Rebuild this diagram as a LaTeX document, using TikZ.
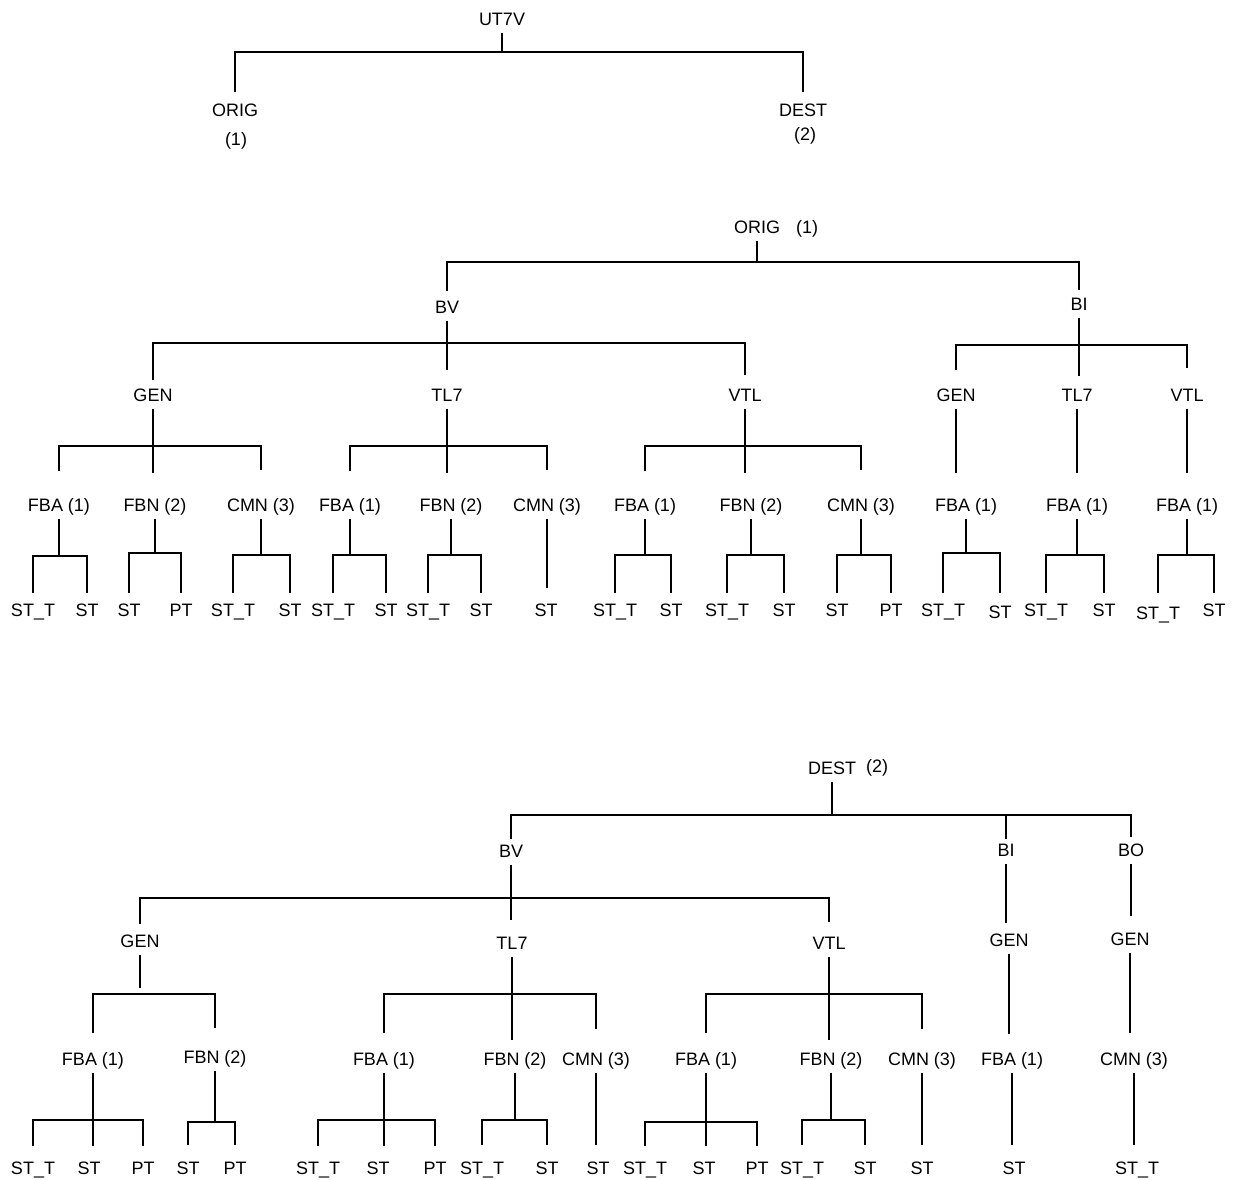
\documentclass[tikz,border=0pt]{standalone}
\usepackage{fontspec}
\setmainfont{Liberation Sans}
\begin{document}
\begin{tikzpicture}[x=1pt,y=-1pt,
  lbl/.style={inner sep=0pt,outer ysep=7.5pt,text height=12.9pt,text depth=0pt,font=\fontsize{18}{20}\selectfont},
  link/.style={line width=2.2pt}]
\useasboundingbox (0,0) rectangle (1234,1179);

\node[lbl] (ut7v) at (502,19) {UT7V};
\node[lbl] (orig) at (235,110) {ORIG};
\node[lbl] (origno) at (236,139) {(1)};
\node[lbl] (dest) at (803,110) {DEST};
\node[lbl] (destno) at (805,134) {(2)};
\draw[link] (ut7v.south) -- (ut7v |- 0,52);
\draw[link] (orig |- 0,92) |- (dest |- 0,52) -- (dest |- 0,92);

\node[lbl] (o) at (757,227) {ORIG};
\node[lbl] (ono) at (807,227) {(1)};
\node[lbl] (obv) at (447,307) {BV};
\node[lbl] (obi) at (1079,304) {BI};
\draw[link] (o.south) -- (o |- 0,262);
\draw[link] (obv |- 0,291) |- (obi |- 0,262) -- (obi |- 0,290);

\foreach \n/\x/\t in {obvgen/153/GEN, obvtl/447/TL7, obvvtl/745/VTL,
    obigen/956/GEN, obitl/1077/TL7, obivtl/1187/VTL}
  \node[lbl] (\n) at (\x,395) {\t};
\draw[link] (obv.south) -- (obv |- 0,370);
\draw[link] (obvgen |- 0,380) |- (obvvtl |- 0,343) -- (obvvtl |- 0,375);
\draw[link] (obi.south) -- (obi |- 0,376);
\draw[link] (obigen |- 0,370) |- (obivtl |- 0,345) -- (obivtl |- 0,368);

\foreach \n/\x/\t in {obvgen1/59/FBA (1), obvgen2/155/FBN (2), obvgen3/261/CMN (3),
    obvtl1/350/FBA (1), obvtl2/451/FBN (2), obvtl3/547/CMN (3),
    obvvtl1/645/FBA (1), obvvtl2/751/FBN (2), obvvtl3/861/CMN (3),
    obigen1/966/FBA (1), obitl1/1077/FBA (1), obivtl1/1187/FBA (1)}
  \node[lbl] (\n) at (\x,505) {\t};
\foreach \p in {obvgen,obvtl,obvvtl} {
  \draw[link] (\p.south) -- (\p |- 0,473);
  \draw[link] (\p 1 |- 0,471) |- (\p 3 |- 0,446) -- (\p 3 |- 0,470);
}
\foreach \p in {obigen,obitl,obivtl}
  \draw[link] (\p.south) -- (\p |- 0,473);

\foreach \n/\x/\t in {obvgen1a/33/ST\_T, obvgen1b/87/ST, obvgen2a/129/ST, obvgen2b/181/PT,
    obvgen3a/233/ST\_T, obvgen3b/290/ST, obvtl1a/333/ST\_T, obvtl1b/386/ST,
    obvtl2a/428/ST\_T, obvtl2b/481/ST, obvtl3a/546/ST,
    obvvtl1a/615/ST\_T, obvvtl1b/671/ST, obvvtl2a/727/ST\_T, obvvtl2b/784/ST,
    obvvtl3a/837/ST, obvvtl3b/891/PT, obigen1a/943/ST\_T,
    obitl1a/1046/ST\_T, obitl1b/1104/ST, obivtl1b/1214/ST}
  \node[lbl] (\n) at (\x,610) {\t};
\node[lbl] (obigen1b) at (1000,612) {ST};
\node[lbl] (obivtl1a) at (1158,613) {ST\_T};
\foreach \p/\y in {obvgen1/556, obvgen2/553, obvgen3/555, obvtl1/555, obvtl2/555,
    obvvtl1/555, obvvtl2/555, obvvtl3/555, obigen1/553, obitl1/555, obivtl1/555} {
  \draw[link] (\p.south) -- (\p |- 0,\y);
  \draw[link] (\p a |- 0,593) |- (\p b |- 0,\y) -- (\p b |- 0,593);
}
\draw[link] (obvtl3.south) -- (obvtl3 |- 0,588);

\node[lbl] (d) at (832,768) {DEST};
\node[lbl] (dno) at (877,766) {(2)};
\node[lbl] (dbv) at (511,851) {BV};
\node[lbl] (dbi) at (1006,850) {BI};
\node[lbl] (dbo) at (1131,850) {BO};
\draw[link] (d.south) -- (d |- 0,815);
\draw[link] (dbv |- 0,839) |- (dbo |- 0,815) -- (dbo |- 0,837);
\draw[link] (dbi |- 0,815) -- (dbi |- 0,839);

\node[lbl] (dbvgen) at (140,941) {GEN};
\node[lbl] (dbvtl) at (512,943) {TL7};
\node[lbl] (dbvvtl) at (829,943) {VTL};
\node[lbl] (dbigen) at (1009,940) {GEN};
\node[lbl] (dbogen) at (1130,939) {GEN};
\draw[link] (dbv.south) -- (dbv |- 0,920);
\draw[link] (dbvgen |- 0,924) |- (dbvvtl |- 0,898) -- (dbvvtl |- 0,922);
\draw[link] (dbi.south) -- (dbi |- 0,923);
\draw[link] (dbo.south) -- (dbo |- 0,916);

\foreach \n/\x/\t in {dbvgen1/93/FBA (1), dbvtl1/384/FBA (1), dbvtl2/515/FBN (2),
    dbvtl3/596/CMN (3), dbvvtl1/706/FBA (1), dbvvtl2/831/FBN (2), dbvvtl3/922/CMN (3),
    dbigen1/1012/FBA (1), dbogen3/1134/CMN (3)}
  \node[lbl] (\n) at (\x,1059) {\t};
\node[lbl] (dbvgen2) at (215,1057) {FBN (2)};
\draw[link] (dbvgen.south) -- (dbvgen |- 0,988);
\draw[link] (dbvgen1 |- 0,1033) |- (dbvgen2 |- 0,994) -- (dbvgen2 |- 0,1028);
\foreach \p in {dbvtl,dbvvtl} {
  \draw[link] (\p.south) -- (\p |- 0,1040);
  \draw[link] (\p 1 |- 0,1033) |- (\p 3 |- 0,994) -- (\p 3 |- 0,1029);
}
\draw[link] (dbigen.south) -- (dbigen |- 0,1034);
\draw[link] (dbogen.south) -- (dbogen |- 0,1033);

\foreach \n/\x/\t in {dbvgen1a/33/ST\_T, dbvgen1b/89/ST, dbvgen1c/143/PT,
    dbvgen2a/188/ST, dbvgen2b/235/PT, dbvtl1a/318/ST\_T, dbvtl1b/378/ST, dbvtl1c/435/PT,
    dbvtl2a/482/ST\_T, dbvtl2b/547/ST, dbvtl3a/598/ST,
    dbvvtl1a/645/ST\_T, dbvvtl1b/704/ST, dbvvtl1c/757/PT,
    dbvvtl2a/802/ST\_T, dbvvtl2b/865/ST, dbvvtl3a/922/ST,
    dbigen1a/1014/ST, dbogen3a/1137/ST\_T}
  \node[lbl] (\n) at (\x,1168) {\t};
\foreach \p/\y in {dbvgen1/1120, dbvtl1/1120, dbvvtl1/1122} {
  \draw[link] (\p.south) -- (\p |- 0,1146);
  \draw[link] (\p a |- 0,1146) |- (\p c |- 0,\y) -- (\p c |- 0,1146);
}
\foreach \p/\y in {dbvgen2/1122, dbvtl2/1120, dbvvtl2/1120} {
  \draw[link] (\p.south) -- (\p |- 0,\y);
  \draw[link] (\p a |- 0,1145) |- (\p b |- 0,\y) -- (\p b |- 0,1145);
}
\foreach \p in {dbvtl3,dbvvtl3,dbigen1,dbogen3}
  \draw[link] (\p.south) -- (\p |- 0,1145);
\end{tikzpicture}
\end{document}
